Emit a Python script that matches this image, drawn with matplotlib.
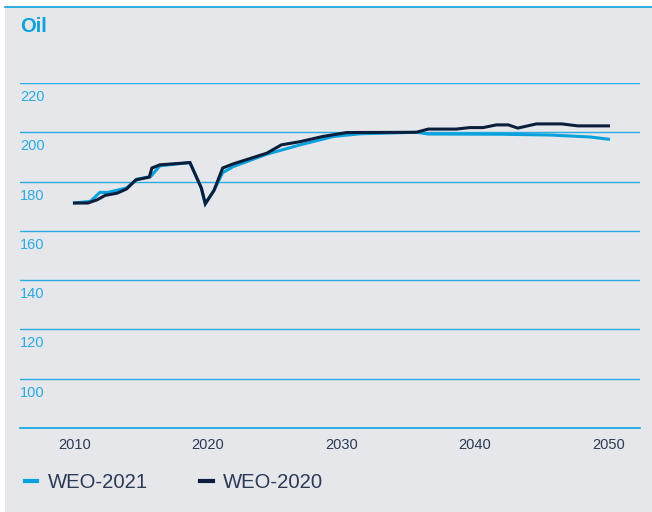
import matplotlib.pyplot as plt
from matplotlib.patches import Rectangle
from matplotlib.lines import Line2D
import matplotlib.transforms as mtransforms

#colours
bg = "#e6e7eb"
light_blue = "#0aa2dc"
grid_blue = "#2aabe2"
navy = "#0b1e3c"
tick_dark = "#2c3a55"

#data (index)
years_2020 = [2010, 2011, 2011.7, 2012.3, 2013.2, 2013.9, 2014.6, 2015.6, 2015.8, 2016.4,
              2018.65, 2019.5, 2019.8, 2020.45, 2021.1, 2021.9, 2024.4, 2025.5, 2026.9,
              2028.6, 2030.4, 2035.6, 2036.5, 2038.6, 2039.6, 2040.6, 2041.6, 2042.5,
              2043.2, 2044.6, 2046.5, 2047.7, 2050]
weo_2020 = [171.3, 171.3, 172.6, 174.4, 175.3, 177.0, 180.7, 181.8, 185.5, 186.8,
            187.7, 177.4, 171.0, 176.4, 185.5, 187.2, 191.5, 194.9, 196.2,
            198.3, 199.9, 200.0, 201.3, 201.3, 201.9, 201.9, 203.0, 203.0,
            201.7, 203.4, 203.4, 202.6, 202.6]

years_2021 = [2010, 2011.2, 2011.9, 2012.5, 2013.9, 2014.7, 2015.7, 2016.4, 2018.65,
              2019.5, 2019.8, 2020.45, 2021.1, 2021.9, 2024.4, 2026.9, 2029.4, 2031.4,
              2032.9, 2035.6, 2036.5, 2042.0, 2045.6, 2048.6, 2050]
weo_2021 = [171.3, 172.0, 175.6, 175.6, 177.4, 181.0, 182.0, 186.4, 187.7,
            177.4, 171.0, 176.4, 183.6, 186.1, 191.1, 194.9, 198.3, 199.4,
            199.6, 200.0, 199.3, 199.2, 198.9, 198.1, 197.2]

y_ticks = [100, 120, 140, 160, 180, 200, 220]
x_ticks = [2010, 2020, 2030, 2040, 2050]

plt.rcParams['font.family'] = ['Liberation Sans', 'DejaVu Sans']

fig = plt.figure(figsize=(6.52, 5.12), dpi=100, facecolor="white")
W, H = 652.0, 512.0
# grey panel with a blue rule along its top
fig.patches.append(Rectangle((5 / W, 0), 1 - 5 / W, 1 - 7 / H, transform=fig.transFigure,
                             facecolor=bg, edgecolor="none", zorder=-5))
fig.lines.append(Line2D([5 / W, 1], [1 - 7 / H, 1 - 7 / H], transform=fig.transFigure,
                        color=light_blue, linewidth=1.2, zorder=-4))

fig.text(20 / W, 1 - 27 / H, "Oil", color=light_blue, fontsize=14.5, fontweight="bold",
         va="center", ha="left")

ax = fig.add_axes([20 / W, 1 - 428 / H, 620 / W, 345 / H])
ax.set_facecolor("none")
ax.set_xlim(2005.92, 2052.36)
ax.set_ylim(80, 220)

for v in y_ticks:
    ax.axhline(v, color=grid_blue, linewidth=1.0, zorder=1)
    ax.text(0.0, v, str(v), color=grid_blue, fontsize=10.5, ha="left", va="top",
            transform=mtransforms.offset_copy(ax.get_yaxis_transform(), fig=fig, x=0, y=-7, units="dots"))

ax.plot(years_2021, weo_2021, color=light_blue, linewidth=2.2, zorder=3, solid_joinstyle="miter")
ax.plot(years_2020, weo_2020, color=navy, linewidth=2.2, zorder=4, solid_joinstyle="miter")

for s in ["top", "left", "right"]:
    ax.spines[s].set_visible(False)
ax.spines["bottom"].set_color(light_blue)
ax.spines["bottom"].set_linewidth(1.2)
ax.set_yticks([])
ax.set_xticks(x_ticks)
ax.set_xticklabels([str(x) for x in x_ticks], color=tick_dark, fontsize=10.5)
ax.tick_params(axis="x", length=0, pad=7)

handles = [Line2D([], [], color=light_blue, linewidth=3),
           Line2D([], [], color=navy, linewidth=3)]
fig.legend(handles, ["WEO-2021", "WEO-2020"], loc="center left",
           bbox_to_anchor=(7 / W, 1 - 483 / H), ncol=2, frameon=False,
           fontsize=14.6, handlelength=0.6, handletextpad=0.5, columnspacing=2.6,
           labelcolor=tick_dark)

fig.savefig("out.png", dpi=100, facecolor=fig.get_facecolor())
